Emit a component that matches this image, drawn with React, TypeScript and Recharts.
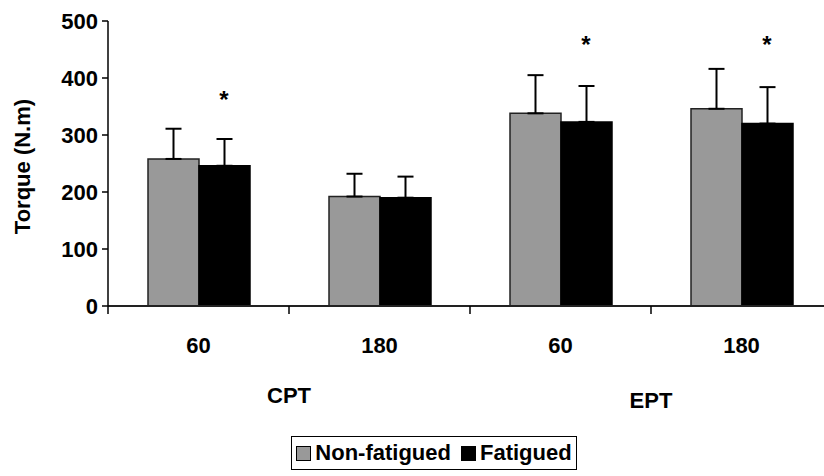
import React from "react"
import { Bar, BarChart, ErrorBar, Legend, ReferenceDot, XAxis, YAxis, Label } from "recharts"

const categories = ["CPT-60", "CPT-180", "EPT-60", "EPT-180"]
const speedLabels = ["60", "180", "60", "180"]
const groupLabels = ["CPT", "CPT", "EPT", "EPT"]
const seriesNames = ["Non-fatigued", "Fatigued"]
const nonFatigued = [258, 192, 338, 346]
const nonFatiguedSD = [53, 40, 67, 70]
const fatigued = [246, 190, 323, 320]
const fatiguedSD = [47, 37, 63, 64]
const starLevels: (number | null)[] = [370, null, 467, 467]
const yTicks = [0, 100, 200, 300, 400, 500]

const FONT = '"Liberation Sans", Arial, sans-serif'
const GREY = "#999999"
const BLACK = "#000000"
const BAR_SIZE = 51

const data = categories.map((key, i) => ({
  key,
  group: groupLabels[i],
  nf: nonFatigued[i],
  nfErr: [0, nonFatiguedSD[i]],
  f: fatigued[i],
  fErr: [0, fatiguedSD[i]],
}))

function SpeedTick(props: any) {
  const { x, y, payload } = props
  const half = payload?.offset ?? 90.5
  const idx = categories.indexOf(payload.value)
  return (
    <g>
      <line x1={x - half} y1={y} x2={x - half} y2={y + 8} stroke="#000" strokeWidth={1.5} />
      <text x={x} y={y + 47} textAnchor="middle" fontFamily={FONT} fontWeight={700} fontSize={22} fill="#000">
        {speedLabels[idx]}
      </text>
    </g>
  )
}

function GroupTick(props: any) {
  const { x, y, payload } = props
  // EPT sits a few pixels lower than CPT in the original
  const dy = payload.value === "EPT" ? 42 : 37
  return (
    <text x={x} y={y + dy} textAnchor="middle" fontFamily={FONT} fontWeight={700} fontSize={22} fill="#000">
      {payload.value}
    </text>
  )
}

function LegendBox(props: any) {
  const items = props.payload || []
  return (
    <div
      style={{
        border: "1.5px solid #000",
        boxSizing: "border-box",
        height: "100%",
        display: "flex",
        alignItems: "center",
        justifyContent: "center",
        gap: 10,
        fontFamily: FONT,
        fontWeight: 700,
        fontSize: 22,
        color: "#000",
        background: "#fff",
        whiteSpace: "nowrap",
      }}
    >
      {items.map((it: any) => (
        <div key={it.value} style={{ display: "flex", alignItems: "center", gap: 4 }}>
          <span
            style={{
              display: "inline-block",
              width: 15,
              height: 15,
              background: it.color,
              border: "1px solid #000",
              boxSizing: "border-box",
            }}
          />
          <span>{it.value}</span>
        </div>
      ))}
    </div>
  )
}

export default function App() {
  return (
    <div
      style={{
        position: "fixed",
        left: 0,
        top: 0,
        width: 824,
        height: 476,
        overflow: "hidden",
        background: "#fff",
      }}
    >
      <BarChart
        width={840}
        height={476}
        data={data}
        barGap={0}
        margin={{ top: 21, right: 8, left: 8, bottom: 70 }}
      >
        <XAxis
          xAxisId="a_main"
          dataKey="key"
          interval={0}
          height={60}
          tickLine={false}
          tickSize={0}
          tickMargin={0}
          axisLine={{ stroke: "#222", strokeWidth: 2 }}
          tick={<SpeedTick />}
        />
        <XAxis
          xAxisId="b_group"
          dataKey="group"
          allowDuplicatedCategory={false}
          height={40}
          tickLine={false}
          tickSize={0}
          tickMargin={0}
          axisLine={false}
          tick={<GroupTick />}
        />
        <YAxis
          domain={[0, 500]}
          ticks={yTicks}
          width={100}
          tickSize={6}
          tickMargin={4}
          axisLine={{ stroke: "#000", strokeWidth: 1.5 }}
          tickLine={{ stroke: "#000", strokeWidth: 1.5 }}
          tick={{ fill: "#000", fontSize: 22, fontWeight: 700, fontFamily: FONT }}
        >
          <Label
            content={(p: any) => {
              const vb = p.viewBox
              const cx = vb.x + 14
              const cy = vb.y + vb.height / 2 + 3
              return (
                <text
                  x={cx}
                  y={cy}
                  transform={`rotate(-90, ${cx}, ${cy})`}
                  textAnchor="middle"
                  dominantBaseline="central"
                  fontFamily={FONT}
                  fontWeight={700}
                  fontSize={22}
                  fill="#000"
                >
                  Torque (N.m)
                </text>
              )
            }}
          />
        </YAxis>
        <Legend
          layout="horizontal"
          verticalAlign="middle"
          align="center"
          itemSorter={(item: any) => seriesNames.indexOf(item.value)}
          wrapperStyle={{ left: 291, top: 436, width: 286, height: 34 }}
          content={<LegendBox />}
        />
        <Bar
          xAxisId="a_main"
          dataKey="nf"
          name={seriesNames[0]}
          fill={GREY}
          stroke="#222"
          strokeWidth={1.5}
          barSize={BAR_SIZE}
          isAnimationActive={false}
        >
          <ErrorBar dataKey="nfErr" direction="y" width={8} stroke="#000" strokeWidth={2} />
        </Bar>
        <Bar
          xAxisId="a_main"
          dataKey="f"
          name={seriesNames[1]}
          fill={BLACK}
          stroke="#000"
          strokeWidth={1.5}
          barSize={BAR_SIZE}
          isAnimationActive={false}
        >
          <ErrorBar dataKey="fErr" direction="y" width={8} stroke="#000" strokeWidth={2} />
        </Bar>
        {starLevels.map((lvl, i) =>
          lvl == null ? null : (
            <ReferenceDot
              key={categories[i]}
              xAxisId="a_main"
              x={categories[i]}
              y={lvl}
              r={0}
              ifOverflow="visible"
              shape={(p: any) => (
                <text
                  x={p.cx + BAR_SIZE / 2}
                  y={p.cy + 13}
                  textAnchor="middle"
                  fontFamily={FONT}
                  fontWeight={700}
                  fontSize={24}
                  fill="#000"
                >
                  *
                </text>
              )}
            />
          )
        )}
      </BarChart>
    </div>
  )
}
